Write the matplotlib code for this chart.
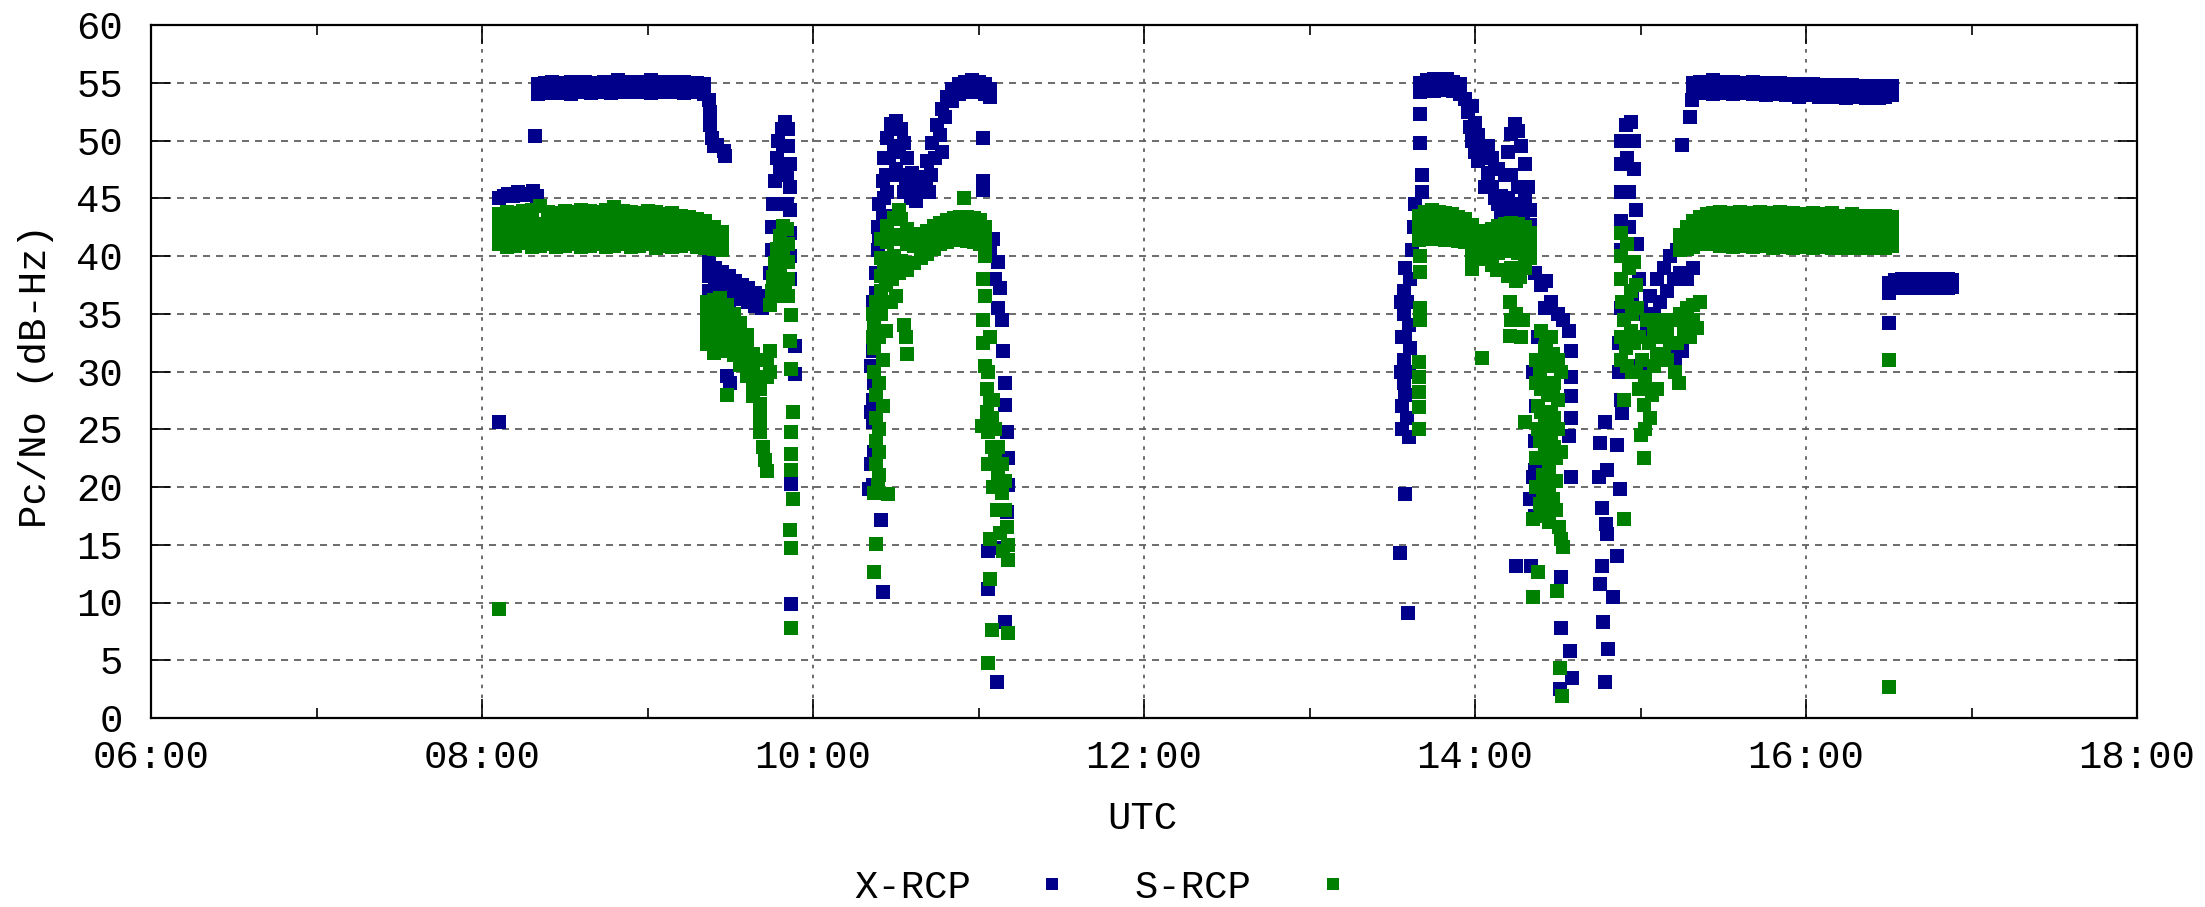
import numpy as np
import matplotlib
matplotlib.use("Agg")
import matplotlib.pyplot as plt
from matplotlib.ticker import MultipleLocator, FuncFormatter

# ---- data: time in decimal hours UTC, Pc/No in dB-Hz ----

# X-RCP, pass 1 (08:00 - 10:00)
X_P1_SCATTER = [(8.10, 25.6), (8.32, 50.4),
                (8.10, 45.0), (8.13, 45.2), (8.16, 45.4), (8.19, 45.2), (8.22, 45.5),
                (8.25, 45.3), (8.28, 45.4), (8.31, 45.6), (8.33, 45.2),
                (9.37, 53.5), (9.38, 52.5), (9.38, 51.3), (9.39, 50.2), (9.40, 49.5),
                (9.42, 49.6), (9.46, 49.1), (9.47, 48.7),
                (9.37, 39.5), (9.37, 38.3), (9.37, 37.0), (9.37, 35.8), (9.37, 34.6),
                (9.41, 39.0), (9.41, 37.8), (9.41, 36.5), (9.41, 35.3), (9.45, 38.6),
                (9.45, 37.3), (9.45, 36.0), (9.49, 38.3), (9.49, 37.0), (9.49, 35.8),
                (9.53, 37.8), (9.53, 36.6), (9.57, 37.5), (9.57, 36.3), (9.61, 37.2),
                (9.61, 36.0), (9.65, 36.8), (9.65, 35.7), (9.69, 36.5), (9.69, 35.5),
                (9.72, 36.2), (9.50, 29.0), (9.48, 29.6),
                (9.74, 36.5), (9.74, 38.5), (9.75, 40.5), (9.75, 42.5), (9.76, 44.5),
                (9.77, 46.5), (9.78, 48.5), (9.79, 50.0), (9.81, 51.0), (9.83, 51.6),
                (9.85, 51.0), (9.85, 49.5), (9.86, 48.0), (9.86, 46.0), (9.86, 44.0),
                (9.86, 42.0), (9.86, 40.0), (9.86, 38.0), (9.80, 47.5), (9.82, 49.5),
                (9.84, 47.0), (9.84, 44.5), (9.83, 42.0), (9.82, 39.5),
                (9.89, 32.2), (9.89, 29.8), (9.87, 20.3), (9.87, 9.9)]
X_P1_BAND_T = [8.34, 8.38, 8.42, 8.46, 8.50, 8.54, 8.58, 8.62, 8.66, 8.70, 8.74, 8.78, 8.82,
               8.86, 8.90, 8.94, 8.98, 9.02, 9.06, 9.10, 9.14, 9.18, 9.22, 9.26, 9.30, 9.34]
X_P1_BAND_TOP = [54.9, 55.0, 55.1, 55.0, 54.9, 55.1, 55.0, 55.1, 55.0, 55.0, 55.1, 55.0, 55.2,
                 55.0, 55.1, 55.1, 55.0, 55.2, 55.1, 55.0, 55.1, 55.0, 55.1, 55.0, 55.0, 54.9]
X_P1_BAND_BOT = [54.0, 54.2, 54.1, 54.3, 54.1, 54.0, 54.2, 54.3, 54.1, 54.2, 54.3, 54.1, 54.2,
                 54.4, 54.2, 54.3, 54.2, 54.1, 54.3, 54.2, 54.3, 54.2, 54.1, 54.3, 54.2, 54.0]

# X-RCP, pass 2 (10:20 - 11:12)
X_P2 = [(10.38, 36.8), (10.37, 34.5), (10.36, 31.8), (10.37, 29.0), (10.36, 27.5),
        (10.36, 25.6), (10.37, 23.0), (10.36, 20.2), (10.41, 17.1), (10.42, 10.9),
        (10.38, 38.5), (10.39, 40.5), (10.35, 30.5), (10.35, 26.5), (10.35, 22.0),
        (10.34, 19.8), (10.36, 33.0), (10.36, 36.0),
        (10.39, 42.5), (10.40, 44.5), (10.42, 46.5), (10.43, 48.5), (10.45, 50.2),
        (10.47, 51.4), (10.50, 51.7), (10.53, 51.0), (10.55, 49.8), (10.57, 48.5),
        (10.60, 47.2), (10.63, 46.2), (10.66, 46.8), (10.69, 48.2), (10.72, 49.8),
        (10.75, 51.3), (10.78, 52.7), (10.81, 53.8), (10.84, 54.5), (10.88, 54.9),
        (10.92, 55.1), (10.96, 55.2), (11.00, 55.1), (11.04, 54.9), (11.07, 54.5),
        (10.42, 43.5), (10.45, 45.5), (10.47, 47.0), (10.50, 47.5), (10.53, 47.0),
        (10.56, 46.0), (10.59, 45.0), (10.62, 44.8), (10.65, 45.5), (10.68, 46.0),
        (10.71, 47.0), (10.74, 48.5), (10.77, 50.5), (10.80, 52.0), (10.84, 53.4),
        (10.88, 54.0), (10.92, 54.2), (10.96, 54.3), (11.00, 54.2), (11.04, 54.0),
        (11.07, 53.8), (10.45, 42.5), (10.48, 43.5), (10.52, 44.0), (10.40, 41.5),
        (10.43, 45.0), (10.46, 48.5), (10.49, 49.5), (10.52, 49.0), (10.44, 47.0),
        (10.58, 46.5), (10.55, 45.5), (10.70, 45.5), (10.78, 49.0),
        (11.03, 50.2), (11.03, 46.5), (11.03, 45.7),
        (11.09, 41.5), (11.12, 39.5), (11.13, 37.2), (11.14, 34.5), (11.15, 31.8),
        (11.16, 29.0), (11.16, 27.1), (11.17, 24.8), (11.18, 22.5), (11.18, 20.2),
        (11.17, 17.8), (11.13, 14.7), (11.06, 14.5), (11.06, 11.2), (11.16, 8.3),
        (11.11, 3.1), (11.07, 40.5), (11.10, 38.0), (11.12, 35.5)]

# X-RCP, pass 3 (13:30 - 16:55)
X_P3 = [(13.547, 14.3), (13.597, 9.1), (13.577, 19.4),
        (13.56, 25.0), (13.56, 27.0), (13.57, 29.0), (13.57, 31.0), (13.56, 33.0),
        (13.57, 35.0), (13.57, 37.0), (13.58, 39.0), (13.59, 26.0), (13.60, 30.0),
        (13.60, 34.0), (13.61, 38.0), (13.62, 40.5), (13.63, 42.5), (13.64, 44.5),
        (13.60, 24.3), (13.58, 33.0), (13.58, 28.0), (13.59, 36.0), (13.55, 30.0),
        (13.55, 36.0), (13.61, 32.0),
        (13.67, 52.3), (13.67, 49.8), (13.68, 47.0), (13.68, 45.5),
        (13.94, 53.6), (13.96, 52.5), (13.97, 51.2), (13.98, 50.0), (14.00, 49.0),
        (14.02, 48.2), (14.04, 49.3), (14.06, 48.5), (14.08, 47.2), (14.10, 46.0),
        (14.12, 45.0), (14.14, 44.5), (14.16, 45.2), (14.18, 47.0), (14.20, 49.0),
        (14.22, 50.6), (14.24, 51.4), (14.26, 50.8), (14.28, 49.5), (14.30, 48.0),
        (14.32, 46.0), (14.33, 44.0), (14.33, 42.7), (14.14, 47.5), (14.16, 43.3),
        (14.20, 43.0), (14.25, 43.0), (14.29, 43.5), (14.10, 48.5), (14.06, 46.0),
        (14.30, 45.0), (14.22, 47.0), (14.26, 46.0), (14.28, 44.5), (14.20, 45.0),
        (14.24, 44.0), (14.18, 44.0), (14.08, 49.5), (14.12, 47.5), (14.02, 50.5),
        (14.00, 51.5), (13.98, 53.0),
        (14.36, 38.5), (14.40, 37.5), (14.43, 37.8), (14.46, 36.0), (14.50, 35.0),
        (14.53, 34.5), (14.57, 33.5), (14.58, 31.8), (14.58, 29.5), (14.58, 27.9),
        (14.58, 26.0), (14.57, 24.4), (14.58, 20.9), (14.35, 30.0), (14.37, 27.0),
        (14.36, 24.0), (14.36, 21.5), (14.33, 19.0), (14.35, 20.9), (14.36, 17.5),
        (14.38, 33.0), (14.42, 35.5),
        (14.25, 13.2), (14.34, 13.2), (14.52, 12.2), (14.52, 7.8), (14.575, 5.8),
        (14.585, 3.5), (14.515, 2.5),
        (14.785, 25.6), (14.755, 23.8), (14.86, 23.6), (14.75, 20.9), (14.876, 19.8),
        (14.77, 18.2), (14.80, 15.9), (14.765, 13.2), (14.856, 14.0), (14.755, 11.6),
        (14.836, 10.5), (14.775, 8.3), (14.806, 6.0), (14.785, 3.1), (14.80, 21.5),
        (14.79, 16.8),
        (14.88, 50.0), (14.91, 51.3), (14.94, 51.6), (14.96, 50.0), (14.88, 48.0),
        (14.92, 48.5), (14.96, 47.5), (14.88, 45.5), (14.93, 45.5), (14.97, 44.0),
        (14.88, 43.0), (14.93, 42.5), (14.98, 41.0), (14.88, 40.5), (14.94, 39.5),
        (14.99, 38.0), (14.88, 38.0), (14.95, 36.5), (15.00, 35.5), (14.88, 35.5),
        (14.87, 32.5), (14.87, 30.0), (14.88, 27.5), (14.89, 26.4),
        (15.02, 35.0), (15.06, 36.5), (15.10, 38.0), (15.14, 39.0), (15.18, 40.0),
        (15.22, 40.5), (15.26, 41.0), (15.30, 41.5), (15.04, 33.5), (15.08, 35.0),
        (15.12, 36.0), (15.16, 37.0), (15.20, 38.0), (15.24, 38.5), (15.28, 38.0),
        (15.32, 39.0), (15.21, 30.8), (15.25, 31.8), (15.00, 30.5), (15.20, 31.5),
        (15.25, 49.6), (15.30, 52.0), (15.31, 53.5),
        (16.50, 34.2)]
X_P3_BAND_A_T = [13.67, 13.71, 13.75, 13.79, 13.83, 13.87, 13.91]
X_P3_BAND_A_TOP = [55.0, 55.2, 55.3, 55.2, 55.3, 55.1, 54.9]
X_P3_BAND_A_BOT = [54.2, 54.4, 54.3, 54.5, 54.4, 54.3, 54.0]
X_P3_BAND_B_T = [15.32, 15.36, 15.40, 15.44, 15.48, 15.52, 15.56, 15.60, 15.64, 15.68, 15.72,
                 15.76, 15.80, 15.84, 15.88, 15.92, 15.96, 16.00, 16.04, 16.08, 16.12, 16.16,
                 16.20, 16.24, 16.28, 16.32, 16.36, 16.40, 16.44, 16.48, 16.52]
X_P3_BAND_B_TOP = [55.0, 55.1, 55.0, 55.2, 55.1, 55.0, 55.1, 55.0, 55.0, 55.1, 54.9, 55.0,
                   54.9, 55.0, 54.9, 54.8, 54.9, 54.8, 54.9, 54.8, 54.7, 54.8, 54.8, 54.7,
                   54.8, 54.7, 54.6, 54.7, 54.7, 54.6, 54.7]
X_P3_BAND_B_BOT = [54.1, 54.2, 54.1, 54.0, 54.2, 54.1, 54.0, 54.1, 54.2, 54.0, 54.1, 53.9,
                   54.0, 54.1, 53.9, 54.0, 53.8, 53.9, 54.0, 53.8, 53.9, 53.8, 53.9, 53.7,
                   53.8, 53.9, 53.7, 53.8, 53.7, 53.8, 53.9]
X_P3_BAND_C_T = [16.50, 16.54, 16.58, 16.62, 16.66, 16.70, 16.74, 16.78, 16.82, 16.86, 16.88]
X_P3_BAND_C_TOP = [37.7, 37.9, 38.0, 37.9, 38.0, 37.9, 38.0, 38.0, 37.9, 38.0, 37.9]
X_P3_BAND_C_BOT = [36.8, 37.2, 37.3, 37.2, 37.3, 37.2, 37.3, 37.2, 37.3, 37.2, 37.3]

# S-RCP, pass 1
S_P1 = [(8.10, 9.4),
        (9.36, 36.0), (9.36, 34.8), (9.36, 33.6), (9.36, 32.4), (9.40, 36.2), (9.40, 35.0),
        (9.40, 33.8), (9.40, 32.6), (9.40, 31.6), (9.44, 36.4), (9.44, 35.2), (9.44, 34.0),
        (9.44, 32.8), (9.44, 31.8), (9.48, 35.8), (9.48, 34.6), (9.48, 33.4), (9.48, 32.2),
        (9.52, 35.0), (9.52, 33.8), (9.52, 32.6), (9.52, 31.4), (9.56, 34.2), (9.56, 33.0),
        (9.56, 31.8), (9.56, 30.6), (9.60, 33.2), (9.60, 32.0), (9.60, 30.8), (9.60, 29.6),
        (9.64, 31.5), (9.64, 30.3), (9.64, 29.1), (9.64, 27.9), (9.68, 28.5), (9.68, 27.2),
        (9.68, 26.0), (9.68, 24.8), (9.70, 23.5), (9.71, 22.3), (9.72, 21.4), (9.72, 29.5),
        (9.72, 31.0), (9.74, 30.0), (9.74, 31.8), (9.48, 28.0),
        (9.74, 35.8), (9.75, 37.0), (9.76, 38.2), (9.77, 39.4), (9.78, 40.6), (9.80, 41.7),
        (9.82, 42.6), (9.84, 42.3), (9.85, 41.0), (9.85, 39.5), (9.85, 38.0), (9.85, 36.5),
        (9.78, 37.0), (9.80, 38.5), (9.82, 40.0), (9.81, 36.5), (9.83, 37.5),
        (9.87, 34.9), (9.86, 32.6), (9.87, 30.2), (9.88, 26.5), (9.87, 24.8), (9.87, 22.9),
        (9.87, 21.5), (9.88, 19.0), (9.86, 16.3), (9.87, 14.7), (9.87, 7.8)]
S_P1_BAND_T = [8.10, 8.15, 8.20, 8.25, 8.30, 8.35, 8.40, 8.45, 8.50, 8.55, 8.60, 8.65, 8.70, 8.75,
               8.80, 8.85, 8.90, 8.95, 9.00, 9.05, 9.10, 9.15, 9.20, 9.25, 9.30, 9.35, 9.40, 9.45]
S_P1_BAND_R4 = [43.6, 43.8, 43.7, 43.9, 44.0, 44.3, 43.8, 43.7, 43.9, 43.8, 44.0, 43.9, 43.8, 44.0,
                44.2, 43.9, 43.8, 43.7, 43.9, 43.8, 43.6, 43.7, 43.5, 43.4, 43.2, 43.0, 42.5, 42.1]
S_P1_BAND_R3 = [42.8, 42.9, 42.7, 42.9, 43.0, 42.8, 42.9, 42.8, 43.0, 42.9, 42.8, 43.0, 42.9, 42.8,
                43.0, 42.9, 42.8, 42.9, 42.8, 42.7, 42.8, 42.6, 42.7, 42.5, 42.4, 42.2, 41.9, 41.6]
S_P1_BAND_R2 = [41.9, 41.8, 42.0, 41.8, 41.9, 42.0, 41.8, 41.9, 42.0, 41.8, 41.9, 42.1, 41.9, 41.8,
                42.0, 41.9, 41.8, 41.9, 42.0, 41.8, 41.9, 41.7, 41.8, 41.7, 41.6, 41.5, 41.2, 41.0]
S_P1_BAND_R1 = [41.0, 40.8, 40.9, 41.1, 40.8, 40.9, 41.0, 40.8, 40.9, 41.0, 40.8, 40.9, 41.0, 40.8,
                40.9, 41.0, 40.8, 40.9, 41.0, 40.7, 40.9, 40.8, 40.9, 41.0, 40.8, 40.7, 40.6, 40.5]

# S-RCP, pass 2
S_P2 = [(10.38, 36.0), (10.37, 34.0), (10.37, 32.0), (10.37, 30.0), (10.38, 28.0),
        (10.38, 26.0), (10.38, 24.0), (10.38, 22.0), (10.39, 20.2), (10.37, 19.5),
        (10.38, 15.1), (10.37, 12.6), (10.455, 19.4), (10.40, 33.0), (10.41, 35.0),
        (10.42, 31.0), (10.42, 27.0), (10.40, 29.0), (10.40, 25.0), (10.40, 23.0),
        (10.40, 21.0), (10.36, 35.0), (10.36, 33.0), (10.41, 37.0), (10.43, 39.0),
        (10.44, 33.5), (10.43, 36.0),
        (10.44, 37.5), (10.48, 38.0), (10.52, 38.5), (10.50, 36.5), (10.47, 36.0),
        (10.52, 44.0), (10.91, 45.0), (10.55, 34.0), (10.57, 31.5), (10.56, 33.0),
        (11.03, 34.5), (11.03, 32.5), (11.04, 30.5), (11.05, 28.5), (11.05, 26.5),
        (11.02, 25.3), (11.06, 24.8), (11.08, 23.5), (11.08, 26.0), (11.10, 22.5),
        (11.10, 25.0), (11.12, 21.0), (11.12, 23.5), (11.14, 19.5), (11.14, 22.0),
        (11.16, 18.0), (11.16, 20.5), (11.17, 16.5), (11.18, 15.0), (11.18, 13.7),
        (11.06, 22.0), (11.09, 20.0), (11.11, 18.0), (11.13, 16.0), (11.15, 14.5),
        (11.07, 27.5), (11.09, 27.5), (11.06, 30.0), (11.07, 33.0),
        (11.07, 15.5), (11.07, 12.0), (11.08, 7.6), (11.18, 7.4), (11.06, 4.8),
        (11.04, 36.5), (11.03, 38.0), (11.04, 40.0)]
S_P2_ARC_T = [10.41, 10.45, 10.49, 10.53, 10.57, 10.61, 10.65, 10.69, 10.73, 10.77, 10.81,
              10.85, 10.89, 10.93, 10.97, 11.01, 11.04]
S_P2_ARC_TOP = [41.5, 42.6, 43.3, 43.2, 42.3, 41.8, 41.9, 42.2, 42.6, 42.9, 43.1, 43.3, 43.4,
                43.4, 43.3, 43.1, 42.5]
S_P2_ARC_MID = [39.8, 41.2, 41.8, 41.5, 41.0, 40.9, 41.0, 41.3, 41.7, 42.0, 42.2, 42.3, 42.4,
                42.3, 42.2, 42.0, 41.5]
S_P2_ARC_LOW = [38.3, 39.0, 40.0, 39.6, 38.8, 39.4, 39.8, 40.2, 40.6, 41.0, 41.2, 41.4, 41.4,
                41.3, 41.2, 41.0, 40.5]

# S-RCP, pass 3
S_P3 = [(13.67, 40.0), (13.67, 38.6), (13.67, 34.5), (13.66, 30.8), (13.66, 29.5),
        (13.66, 28.2), (13.66, 26.9), (13.66, 25.0), (13.67, 35.5),
        (13.98, 38.9), (14.13, 38.8), (14.27, 38.2), (14.30, 39.0), (14.22, 39.0),
        (13.98, 39.4), (14.10, 39.2), (14.20, 38.3), (14.25, 37.8), (14.04, 31.2),
        (14.21, 36.0), (14.21, 33.1), (14.29, 34.5), (14.25, 35.0), (14.28, 33.0),
        (14.22, 34.5),
        (14.43, 32.6), (14.37, 31.0), (14.40, 31.0), (14.44, 30.5), (14.47, 31.5),
        (14.37, 29.0), (14.40, 28.5), (14.44, 28.0), (14.48, 29.0), (14.38, 27.0),
        (14.42, 26.0), (14.46, 26.5), (14.50, 27.5), (14.38, 25.0), (14.42, 23.5),
        (14.46, 24.0), (14.50, 25.0), (14.37, 22.5), (14.41, 21.0), (14.45, 21.5),
        (14.49, 22.5), (14.37, 20.0), (14.41, 19.0), (14.45, 19.5), (14.49, 20.5),
        (14.40, 17.5), (14.45, 17.0), (14.49, 18.0), (14.51, 16.5), (14.52, 15.5),
        (14.53, 14.8), (14.30, 25.6), (14.35, 17.2), (14.38, 12.6), (14.35, 10.5),
        (14.495, 11.0), (14.515, 4.3), (14.525, 1.9), (14.40, 33.5), (14.52, 30.0),
        (14.52, 23.0), (14.39, 30.0), (14.43, 29.0), (14.47, 28.0), (14.39, 24.0),
        (14.44, 22.5), (14.48, 23.5), (14.39, 18.5), (14.43, 18.0), (14.47, 19.0),
        (14.42, 32.0), (14.46, 33.0), (14.50, 31.0), (14.48, 26.0), (14.44, 25.0),
        (14.40, 26.5), (14.42, 20.0), (14.46, 20.5),
        (14.88, 42.0), (14.88, 40.0), (14.88, 38.0), (14.89, 36.0), (14.90, 34.5),
        (14.92, 41.0), (14.93, 39.0), (14.94, 37.0), (14.95, 35.0), (14.96, 39.5),
        (14.97, 37.5), (14.98, 35.5), (14.90, 27.5), (14.90, 17.2), (15.02, 22.5),
        (15.02, 27.1), (15.00, 24.5), (14.99, 33.0), (15.01, 31.0), (14.96, 32.5),
        (14.97, 30.0), (14.99, 28.5), (14.92, 30.5), (14.88, 31.0), (14.88, 33.0),
        (15.05, 32.5), (15.08, 30.5), (15.10, 28.5), (15.04, 28.5), (15.06, 26.0),
        (15.03, 25.0), (14.91, 32.0), (14.94, 33.5), (14.92, 36.0), (14.95, 30.0),
        (15.03, 29.5), (15.07, 28.0),
        (15.04, 34.5), (15.08, 33.5), (15.12, 33.0), (15.16, 33.5), (15.20, 34.5),
        (15.24, 35.0), (15.28, 35.5), (15.32, 35.8), (15.36, 36.0), (15.10, 31.5),
        (15.14, 31.5), (15.18, 32.5), (15.22, 32.5), (15.26, 33.5), (15.30, 33.0),
        (15.34, 33.8), (15.23, 29.0), (15.21, 30.0), (15.16, 31.0), (15.28, 34.0),
        (15.32, 34.5), (15.12, 34.5),
        (16.50, 31.0), (16.50, 2.7)]
S_P3_BAND_A_T = [13.66, 13.70, 13.74, 13.78, 13.82, 13.86, 13.90, 13.94, 13.98, 14.02, 14.06,
                 14.10, 14.14, 14.18, 14.22, 14.26, 14.30, 14.33]
S_P3_BAND_A_TOP = [43.5, 43.8, 44.0, 43.8, 43.7, 43.6, 43.4, 43.2, 42.7, 42.2, 42.0, 42.3,
                   42.6, 42.8, 42.9, 42.8, 42.5, 42.0]
S_P3_BAND_A_MID = [42.5, 42.7, 42.8, 42.7, 42.6, 42.5, 42.4, 42.2, 41.5, 41.0, 40.9, 41.3,
                   41.5, 41.6, 41.7, 41.6, 41.3, 41.0]
S_P3_BAND_A_LOW = [41.4, 41.5, 41.6, 41.5, 41.4, 41.4, 41.3, 41.2, 40.3, 39.7, 39.8, 40.2,
                   40.3, 40.4, 40.5, 40.3, 40.1, 39.8]
S_P3_BAND_B_T = [15.24, 15.28, 15.32, 15.36, 15.40, 15.44, 15.48, 15.52, 15.56, 15.60, 15.64,
                 15.68, 15.72, 15.76, 15.80, 15.84, 15.88, 15.92, 15.96, 16.00, 16.04, 16.08,
                 16.12, 16.16, 16.20, 16.24, 16.28, 16.32, 16.36, 16.40, 16.44, 16.48, 16.52]
S_P3_BAND_B_R4 = [41.8, 42.5, 43.0, 43.4, 43.6, 43.7, 43.8, 43.6, 43.7, 43.8, 43.6, 43.7, 43.8,
                  43.6, 43.7, 43.8, 43.6, 43.7, 43.5, 43.6, 43.7, 43.5, 43.6, 43.7, 43.5, 43.4,
                  43.6, 43.5, 43.4, 43.5, 43.4, 43.5, 43.4]
S_P3_BAND_B_R3 = [41.0, 41.6, 42.2, 42.7, 42.8, 42.9, 42.8, 42.9, 42.8, 42.9, 42.7, 42.8, 42.9,
                  42.7, 42.8, 42.9, 42.7, 42.8, 42.6, 42.7, 42.8, 42.6, 42.7, 42.8, 42.6, 42.5,
                  42.7, 42.6, 42.5, 42.6, 42.5, 42.6, 42.5]
S_P3_BAND_B_R2 = [40.8, 41.0, 41.5, 41.8, 41.9, 42.0, 41.9, 41.8, 41.9, 42.0, 41.8, 41.9, 42.0,
                  41.8, 41.9, 41.8, 41.7, 41.8, 41.7, 41.8, 41.7, 41.8, 41.7, 41.8, 41.7, 41.6,
                  41.7, 41.6, 41.7, 41.6, 41.7, 41.6, 41.7]
S_P3_BAND_B_R1 = [40.5, 40.6, 40.8, 41.0, 41.0, 41.1, 40.9, 41.0, 40.8, 40.9, 41.0, 40.8, 40.9,
                  41.0, 40.7, 40.8, 40.9, 40.7, 40.8, 40.9, 40.7, 40.8, 40.9, 40.7, 40.8, 40.7,
                  40.8, 40.7, 40.8, 40.7, 40.9, 40.7, 40.9]

X_COLOR = "#00008b"
S_COLOR = "#008000"
FONT = "Liberation Mono"
FS = 28
MS = 10.5


def band(times, *rows):
    pts = []
    for row in rows:
        pts += list(zip(times, row))
    return pts


x_pts = (X_P1_SCATTER + band(X_P1_BAND_T, X_P1_BAND_TOP, X_P1_BAND_BOT) + X_P2 + X_P3
         + band(X_P3_BAND_A_T, X_P3_BAND_A_TOP, X_P3_BAND_A_BOT)
         + band(X_P3_BAND_B_T, X_P3_BAND_B_TOP, X_P3_BAND_B_BOT)
         + band(X_P3_BAND_C_T, X_P3_BAND_C_TOP, X_P3_BAND_C_BOT))
s_pts = (S_P1 + band(S_P1_BAND_T, S_P1_BAND_R4, S_P1_BAND_R3, S_P1_BAND_R2, S_P1_BAND_R1)
         + S_P2 + band(S_P2_ARC_T, S_P2_ARC_TOP, S_P2_ARC_MID, S_P2_ARC_LOW)
         + S_P3 + band(S_P3_BAND_A_T, S_P3_BAND_A_TOP, S_P3_BAND_A_MID, S_P3_BAND_A_LOW)
         + band(S_P3_BAND_B_T, S_P3_BAND_B_R4, S_P3_BAND_B_R3, S_P3_BAND_B_R2, S_P3_BAND_B_R1))

x_t, x_v = np.array(x_pts).T
s_t, s_v = np.array(s_pts).T

plt.rcParams['font.family'] = [FONT, 'DejaVu Sans Mono']

fig = plt.figure(figsize=(22.05, 9.07), dpi=100)
W, H = 2205.0, 907.0
ax = fig.add_axes([151 / W, 1 - 718 / H, (2137 - 151) / W, (718 - 25) / H])

ax.plot(x_t, x_v, linestyle='none', marker='s', ms=MS, mew=0, color=X_COLOR,
        label='X-RCP', zorder=3)
ax.plot(s_t, s_v, linestyle='none', marker='s', ms=MS, mew=0, color=S_COLOR,
        label='S-RCP', zorder=4)

ax.set_xlim(6, 18)
ax.set_ylim(0, 60)
ax.xaxis.set_major_locator(MultipleLocator(2))
ax.xaxis.set_minor_locator(MultipleLocator(1))
ax.yaxis.set_major_locator(MultipleLocator(5))
ax.xaxis.set_major_formatter(FuncFormatter(lambda v, p: "%02d:00" % int(round(v))))

ax.tick_params(which='both', direction='in', top=True, right=True, width=1.2,
               labelsize=FS)
ax.tick_params(which='major', length=14)
ax.tick_params(which='minor', length=7)
ax.tick_params(axis='y', pad=20)
ax.tick_params(axis='x', pad=16)

ax.grid(True, axis='y', color='#606060', lw=1.3, linestyle=(0, (3.9, 3.3)), zorder=1)
ax.grid(True, axis='x', which='major', color='#606060', lw=1.3,
        linestyle=(0, (2.0, 3.5)), zorder=1)
ax.set_axisbelow(True)
for sp in ax.spines.values():
    sp.set_linewidth(1.6)

fig.text(1142 / W, 1 - 819 / H, "UTC", ha='center', va='center', fontsize=FS)
fig.text(36 / W, 1 - 376 / H, "Pc/No (dB-Hz)", ha='center', va='center',
         rotation=90, fontsize=FS)

fig.legend(loc='center', bbox_to_anchor=(1103 / W, 1 - 888 / H), ncol=2,
           markerfirst=False, frameon=False, fontsize=FS, handlelength=1.0,
           handletextpad=1.6, columnspacing=1.6, markerscale=0.85)

fig.savefig("out.png", dpi=100)
